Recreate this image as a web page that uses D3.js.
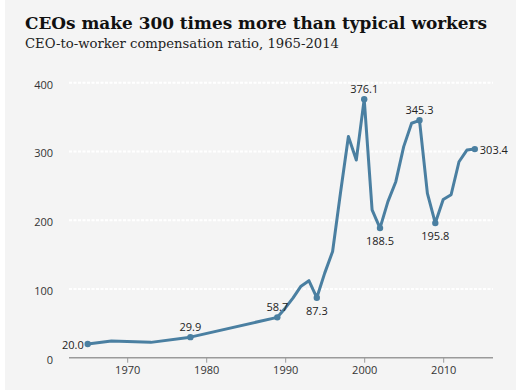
<!DOCTYPE html>
<html>
<head>
<meta charset="utf-8">
<script src="https://cdn.jsdelivr.net/npm/d3@7/dist/d3.min.js"></script>
<style>
  html, body { margin: 0; padding: 0; background: #ffffff; }
  svg { display: block; }
</style>
</head>
<body>
<svg id="chart" width="516" height="390"></svg>
<script>
const title = "CEOs make 300 times more than typical workers";
const subtitle = "CEO-to-worker compensation ratio, 1965-2014";

const years = [1965, 1968, 1973, 1978, 1989, 1990, 1991, 1992, 1993, 1994, 1995, 1996, 1997, 1998, 1999,
               2000, 2001, 2002, 2003, 2004, 2005, 2006, 2007, 2008, 2009, 2010, 2011, 2012, 2013, 2014];
const ratios = [20.0, 24.2, 22.3, 29.9, 58.7, 72.0, 87.0, 104.0, 112.0, 87.3, 123.0, 154.5, 240.0, 321.7, 287.5,
                376.1, 215.0, 188.5, 227.0, 256.0, 307.0, 341.0, 345.3, 239.0, 195.8, 230.0, 237.0, 285.0, 302.0, 303.4];

const labeledYears = [1965, 1978, 1989, 1994, 2000, 2002, 2007, 2009, 2014];
const labelPlacement = ["left", "above", "above", "below", "above", "below", "above", "below", "right"];

const yTicks = [0, 100, 200, 300, 400];
const xTicks = [1970, 1980, 1990, 2000, 2010];

const data = years.map((y, i) => ({ year: y, value: ratios[i] }));

const svg = d3.select("#chart");

// background
svg.append("rect").attr("x", 5).attr("y", 0).attr("width", 511).attr("height", 390).attr("fill", "#f4f4f4");

// title
svg.append("text")
  .attr("x", 25).attr("y", 29)
  .attr("font-family", "'DejaVu Serif', serif")
  .attr("font-weight", "bold")
  .attr("font-size", 16.5)
  .attr("textLength", 462)
  .attr("lengthAdjust", "spacingAndGlyphs")
  .attr("fill", "#111")
  .text(title);

svg.append("text")
  .attr("x", 25).attr("y", 48)
  .attr("font-family", "'DejaVu Serif', serif")
  .attr("font-size", 13)
  .attr("textLength", 314)
  .attr("lengthAdjust", "spacingAndGlyphs")
  .attr("fill", "#222")
  .text(subtitle);

const x = d3.scaleLinear().domain([1965, 2014]).range([87.7, 474.8]);
const y = d3.scaleLinear().domain([0, 400]).range([357.7, 82.7]);

const xLeft = 69, xRight = 493;

// gridlines
svg.append("g").selectAll("line")
  .data(yTicks.filter(t => t > 0))
  .join("line")
  .attr("x1", xLeft).attr("x2", xRight)
  .attr("y1", d => y(d)).attr("y2", d => y(d))
  .attr("stroke", "#ffffff")
  .attr("stroke-width", 2)
  .attr("stroke-dasharray", "3,1.5");

// y tick labels
svg.append("g").selectAll("text")
  .data(yTicks)
  .join("text")
  .attr("x", 53)
  .attr("y", d => y(d) + 2)
  .attr("dy", "0.35em")
  .attr("text-anchor", "end")
  .attr("font-family", "'Open Sans', sans-serif")
  .attr("font-size", 11)
  .attr("fill", "#333")
  .text(d => d);

// x axis
const xAxis = d3.axisBottom(x).tickValues(xTicks).tickFormat(d3.format("d")).tickSize(5).tickPadding(4);
const gx = svg.append("g").attr("transform", `translate(0,${y(0)})`).call(xAxis);
gx.select(".domain").remove();
gx.insert("line", ":first-child")
  .attr("x1", xLeft).attr("x2", xRight).attr("y1", 0).attr("y2", 0)
  .attr("stroke", "#9a9a9a").attr("stroke-width", 1.5);
gx.selectAll(".tick line").attr("stroke", "#9a9a9a");
gx.selectAll(".tick text")
  .attr("font-family", "'Open Sans', sans-serif")
  .attr("font-size", 11)
  .attr("fill", "#333");

// line
const lineColor = "#4a7fa1";
const line = d3.line().x(d => x(d.year)).y(d => y(d.value)).curve(d3.curveLinear);
svg.append("path")
  .datum(data)
  .attr("fill", "none")
  .attr("stroke", lineColor)
  .attr("stroke-width", 3)
  .attr("stroke-linejoin", "round")
  .attr("d", line);

// markers and labels
const labeled = labeledYears.map((yr, i) => ({ ...data.find(d => d.year === yr), pos: labelPlacement[i] }));

svg.append("g").selectAll("circle")
  .data(labeled)
  .join("circle")
  .attr("cx", d => x(d.year)).attr("cy", d => y(d.value))
  .attr("r", 3.2)
  .attr("fill", lineColor);

svg.append("g").selectAll("text")
  .data(labeled)
  .join("text")
  .attr("font-family", "'Open Sans', sans-serif")
  .attr("font-size", 11)
  .attr("fill", "#222")
  .attr("x", d => d.pos === "left" ? x(d.year) - 4 : d.pos === "right" ? x(d.year) + 5 : x(d.year))
  .attr("y", d => d.pos === "above" ? y(d.value) - 6 : d.pos === "below" ? y(d.value) + 17 : y(d.value) + 5)
  .attr("text-anchor", d => d.pos === "left" ? "end" : d.pos === "right" ? "start" : "middle")
  .text(d => d3.format(".1f")(d.value));
</script>
</body>
</html>
